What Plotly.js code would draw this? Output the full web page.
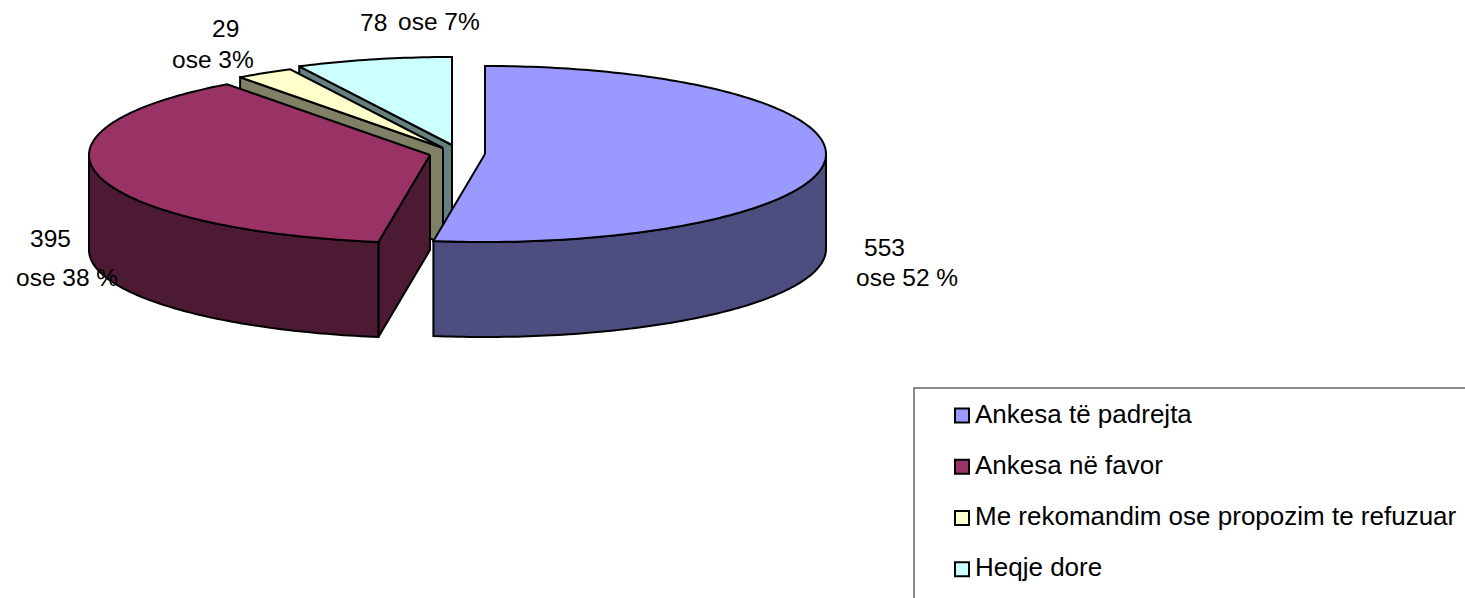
<!DOCTYPE html>
<html>
<head>
<meta charset="utf-8">
<script src="https://cdn.plot.ly/plotly-3.0.1.min.js"></script>
<style>html,body{margin:0;padding:0;background:#fff}#chart{width:1465px;height:598px}</style>
</head>
<body>
<div id="chart"></div>
<script>
const categories = ["Ankesa të padrejta", "Ankesa në favor", "Me rekomandim ose propozim te refuzuar", "Heqje dore"];
const values = [553, 395, 29, 78];
const percents = ["52 %", "38 %", "3%", "7%"];
const topColors = ["#9999FF", "#993366", "#FFFFCC", "#CCFFFF"];
const wallColors = ["#4D4D80", "#4D1A33", "#808066", "#668080"];

// Projection of the exploded pie on screen pixels
const apexX = [485, 430, 443, 452];
const apexY = [154, 155, 148, 145];
const RX = 341, RY = 88, DEPTH = 95;
const FONT = "Liberation Sans, Arial, sans-serif";

const total = values.reduce((a, b) => a + b, 0);
const rim = (i, deg, dy) => {
  const t = deg * Math.PI / 180;
  return [apexX[i] + RX * Math.sin(t), apexY[i] - RY * Math.cos(t) + (dy || 0)];
};
const poly = (pts, color) => ({
  type: "scatter", mode: "lines", fill: "toself", fillcolor: color,
  x: pts.map(p => p[0]), y: pts.map(p => p[1]),
  line: {color: "#000", width: 2, simplify: false},
  showlegend: false, hoverinfo: "skip"
});
const arc = (i, a, b, dy) => {
  const pts = [], n = Math.max(2, Math.ceil(Math.abs(b - a)));
  for (let k = 0; k <= n; k++) pts.push(rim(i, a + (b - a) * k / n, dy));
  return pts;
};

let cum = 0;
const sliceAngles = values.map(v => { const s = cum; cum += v / total * 360; return [s, cum]; });
const traces = [];
[3, 2, 1, 0].forEach(i => {
  const [a, b] = sliceAngles[i];
  const apex = [apexX[i], apexY[i]];
  // radial cut face on the clockwise start, visible when it faces the viewer
  if (a > 180) {
    const r = rim(i, a), rb = rim(i, a, DEPTH);
    traces.push(poly([apex, [apex[0], apex[1] + DEPTH], rb, r, apex], wallColors[i]));
  }
  // outer curved wall, front half only
  const fa = Math.max(a, 90), fb = Math.min(b, 270);
  if (fb > fa) {
    const top = arc(i, fa, fb), bot = arc(i, fb, fa, DEPTH);
    traces.push(poly(top.concat(bot, [top[0]]), wallColors[i]));
  }
  // top face
  traces.push(poly([apex].concat(arc(i, a, b), [apex]), topColors[i]));
});

// Legend entries
categories.forEach((c, i) => traces.push({
  type: "scatter", mode: "markers", x: [null], y: [null], name: c,
  legendgroup: "g" + i,
  marker: {symbol: "square", size: 14, color: topColors[i], line: {color: "#000", width: 2}},
  hoverinfo: "skip"
}));

// Value labels: value text centre, percent text centre
const valuePos = [[884, 247], [50, 238], [225.5, 28], [373, 22]];
const pctPos = [[907, 277], [67, 277], [213, 59], [438.5, 21]];
const annotations = [];
values.forEach((v, i) => {
  const base = {xref: "x", yref: "y", showarrow: false, font: {family: FONT, size: 24.5, color: "#000"},
                xanchor: "center", yanchor: "middle"};
  annotations.push(Object.assign({}, base, {x: valuePos[i][0], y: valuePos[i][1], text: String(v)}));
  annotations.push(Object.assign({}, base, {x: pctPos[i][0], y: pctPos[i][1], text: "ose " + percents[i]}));
});

const layout = {
  width: 1465, height: 598,
  margin: {l: 0, r: 0, t: 0, b: 0, pad: 0, autoexpand: false},
  paper_bgcolor: "#fff", plot_bgcolor: "#fff",
  xaxis: {range: [0, 1465], visible: false, fixedrange: true},
  yaxis: {range: [598, 0], visible: false, fixedrange: true},
  showlegend: true,
  legend: {
    x: 935 / 1465, xanchor: "left", y: 1 - 389 / 598, yanchor: "top",
    bgcolor: "rgba(0,0,0,0)", borderwidth: 0,
    font: {family: FONT, size: 26, color: "#000"},
    tracegroupgap: 14.5, itemclick: false, itemdoubleclick: false
  },
  shapes: [{type: "rect", xref: "x", yref: "y", x0: 914, x1: 1500, y0: 388, y1: 640,
            line: {color: "#666", width: 1.5}, fillcolor: "rgba(0,0,0,0)", layer: "below"}],
  annotations: annotations
};

Plotly.newPlot("chart", traces, layout, {displayModeBar: false, staticPlot: true}).then(() => {
  // Legend swatches sit slightly closer to the text and lower than the default
  document.querySelectorAll(".legend .legendpoints").forEach(g => g.setAttribute("transform", "translate(7,3)"));
});
</script>
</body>
</html>
